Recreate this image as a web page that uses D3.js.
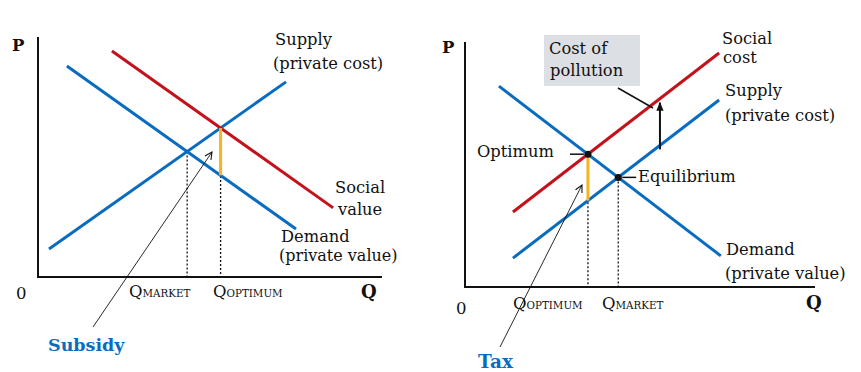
<!DOCTYPE html>
<html lang="en">
<head>
  <meta charset="UTF-8">
  <title>Externalities: subsidy and tax</title>
  <style>
    body { margin: 0; background: #fff; }
    svg { display: block; font-family: "DejaVu Serif", "Liberation Serif", serif; }
    .lbl { font-size: 16.3px; fill: #111; }
    .curve { fill: none; stroke-width: 3px; stroke-linecap: butt; }
    .axis { stroke: #111; stroke-width: 2px; }
    .dot-line { stroke: #111; stroke-width: 1.3px; stroke-dasharray: 2,2; }
  </style>
</head>
<body>
  <svg width="861" height="372"></svg>

  <script src="https://d3js.org/d3.v7.min.js"></script>
  <script>
    // left panel: positive externality (subsidy), values in arbitrary units 0..10
    const leftDemand = [[0.84, 8.79], [7.5, 2.0]];
    const leftSupply = [[0.32, 1.17], [7.21, 8.13]];
    const leftSocialValue = [[2.15, 9.42], [8.58, 2.88]];

    // right panel: negative externality (tax)
    const rightDemand = [[0.97, 8.20], [7.31, 1.27]];
    const rightSupply = [[1.37, 1.18], [7.26, 7.63]];
    const rightSocialCost = [[1.37, 3.06], [7.26, 9.55]];
    const pollutionArrowQ = 5.57;

    const blue = "#0a6cbf", red = "#c3121c", orange = "#f7b125";

    const svg = d3.select("svg");
    svg.append("defs").html(`
      <marker id="thin" viewBox="0 0 10 10" refX="9" refY="5" markerWidth="9" markerHeight="9" orient="auto" markerUnits="userSpaceOnUse">
        <path d="M1,1 L9,5 L1,9" fill="none" stroke="#111" stroke-width="1.2"/>
      </marker>
      <marker id="solid" viewBox="0 0 10 10" refX="9" refY="5" markerWidth="9" markerHeight="10" orient="auto" markerUnits="userSpaceOnUse">
        <path d="M0,1 L10,5 L0,9 Z" fill="#111"/>
      </marker>`);

    function lineAt(seg, x) {
      const [[x1, y1], [x2, y2]] = seg;
      return y1 + (y2 - y1) * (x - x1) / (x2 - x1);
    }
    function intersect(a, b) {
      const ma = (a[1][1] - a[0][1]) / (a[1][0] - a[0][0]);
      const mb = (b[1][1] - b[0][1]) / (b[1][0] - b[0][0]);
      const x = (b[0][1] - mb * b[0][0] - a[0][1] + ma * a[0][0]) / (ma - mb);
      return [x, lineAt(a, x)];
    }

    function text(g, x, y, s, opts = {}) {
      const t = g.append("text").attr("class", "lbl").attr("x", x).attr("y", y).text(s);
      if (opts.bold) t.style("font-weight", "bold");
      if (opts.size) t.style("font-size", opts.size + "px");
      if (opts.fill) t.style("fill", opts.fill);
      return t;
    }
    function qLabel(g, x, y, sub) {
      const t = g.append("text").attr("class", "lbl").attr("x", x).attr("y", y);
      t.append("tspan").style("font-size", "16.5px").text("Q");
      t.append("tspan").style("font-size", "10.3px").text(sub);
    }
    function axes(g, x, y) {
      g.append("line").attr("class", "axis")
        .attr("x1", x(0)).attr("x2", x(0)).attr("y1", y(10)).attr("y2", y(0) + 1);
      g.append("line").attr("class", "axis")
        .attr("x1", x(0) - 1).attr("x2", x(10)).attr("y1", y(0)).attr("y2", y(0));
    }

    // ---------- left panel ----------
    (function () {
      const g = svg.append("g");
      const x = d3.scaleLinear().domain([0, 10]).range([38, 382]);
      const y = d3.scaleLinear().domain([0, 10]).range([277, 37]);
      const line = d3.line().x(d => x(d[0])).y(d => y(d[1]));

      const mkt = intersect(leftDemand, leftSupply);
      const opt = intersect(leftSocialValue, leftSupply);

      g.append("line").attr("class", "dot-line")
        .attr("x1", x(mkt[0])).attr("x2", x(mkt[0])).attr("y1", y(mkt[1])).attr("y2", y(0));
      g.append("line").attr("class", "dot-line")
        .attr("x1", x(opt[0])).attr("x2", x(opt[0])).attr("y1", y(opt[1])).attr("y2", y(0));

      g.append("path").attr("class", "curve").attr("stroke", blue).attr("d", line(leftDemand));
      g.append("path").attr("class", "curve").attr("stroke", blue).attr("d", line(leftSupply));
      g.append("path").attr("class", "curve").attr("stroke", red).attr("d", line(leftSocialValue));

      // subsidy gap
      g.append("line").attr("stroke", orange).attr("stroke-width", 3)
        .attr("x1", x(opt[0])).attr("x2", x(opt[0]))
        .attr("y1", y(opt[1])).attr("y2", y(lineAt(leftDemand, opt[0])));

      axes(g, x, y);

      // subsidy pointer
      g.append("line").attr("stroke", "#111").attr("stroke-width", 0.9)
        .attr("x1", 93).attr("y1", 327).attr("x2", 212).attr("y2", 152)
        .attr("marker-end", "url(#thin)");

      text(g, 12, 51, "P", { bold: true, size: 16.5 });
      text(g, 275, 45, "Supply");
      text(g, 273, 69, "(private cost)");
      text(g, 335, 193, "Social");
      text(g, 338, 215, "value");
      text(g, 281, 242, "Demand");
      text(g, 279, 261, "(private value)", { size: 16 });
      text(g, 16, 299, "0", { size: 16.5 });
      qLabel(g, 129, 297, "MARKET");
      qLabel(g, 213, 297, "OPTIMUM");
      text(g, 361, 298, "Q", { bold: true, size: 18 });
      text(g, 48, 351, "Subsidy", { bold: true, size: 17.5, fill: blue });
    })();

    // ---------- right panel ----------
    (function () {
      const g = svg.append("g");
      const x = d3.scaleLinear().domain([0, 10]).range([465, 815]);
      const y = d3.scaleLinear().domain([0, 10]).range([287, 42]);
      const line = d3.line().x(d => x(d[0])).y(d => y(d[1]));

      const mkt = intersect(rightDemand, rightSupply);
      const opt = intersect(rightDemand, rightSocialCost);

      // cost of pollution box
      g.append("rect").attr("x", 544).attr("y", 35).attr("width", 96).attr("height", 51)
        .attr("fill", "#dcdfe3");
      text(g, 549, 54, "Cost of");
      text(g, 550, 76, "pollution");

      g.append("line").attr("class", "dot-line")
        .attr("x1", x(mkt[0])).attr("x2", x(mkt[0])).attr("y1", y(mkt[1])).attr("y2", y(0));
      g.append("line").attr("class", "dot-line")
        .attr("x1", x(opt[0])).attr("x2", x(opt[0])).attr("y1", y(opt[1])).attr("y2", y(0));

      g.append("path").attr("class", "curve").attr("stroke", blue).attr("d", line(rightDemand));
      g.append("path").attr("class", "curve").attr("stroke", blue).attr("d", line(rightSupply));
      g.append("path").attr("class", "curve").attr("stroke", red).attr("d", line(rightSocialCost));

      // tax gap
      g.append("line").attr("stroke", orange).attr("stroke-width", 3)
        .attr("x1", x(opt[0])).attr("x2", x(opt[0]))
        .attr("y1", y(opt[1])).attr("y2", y(lineAt(rightSupply, opt[0])));

      // pollution shift arrow
      g.append("line").attr("stroke", "#111").attr("stroke-width", 2)
        .attr("x1", x(pollutionArrowQ)).attr("x2", x(pollutionArrowQ))
        .attr("y1", y(lineAt(rightSupply, pollutionArrowQ)) + 4)
        .attr("y2", y(lineAt(rightSocialCost, pollutionArrowQ)) + 4)
        .attr("marker-end", "url(#solid)");
      g.append("line").attr("stroke", "#111").attr("stroke-width", 1.5)
        .attr("x1", 618).attr("y1", 88).attr("x2", 653).attr("y2", 108);

      axes(g, x, y);

      // points and their leader ticks
      g.selectAll("circle.pt").data([opt, mkt]).join("circle").attr("class", "pt")
        .attr("cx", d => x(d[0])).attr("cy", d => y(d[1])).attr("r", 3.5).attr("fill", "#111");
      g.append("line").attr("stroke", "#111").attr("stroke-width", 1.5)
        .attr("x1", x(opt[0]) - 18).attr("x2", x(opt[0]) - 4).attr("y1", y(opt[1])).attr("y2", y(opt[1]));
      g.append("line").attr("stroke", "#111").attr("stroke-width", 1.5)
        .attr("x1", x(mkt[0]) + 4).attr("x2", x(mkt[0]) + 18).attr("y1", y(mkt[1])).attr("y2", y(mkt[1]));

      // tax pointer
      g.append("line").attr("stroke", "#111").attr("stroke-width", 0.9)
        .attr("x1", 500).attr("y1", 347).attr("x2", 582).attr("y2", 185)
        .attr("marker-end", "url(#thin)");

      text(g, 442, 53, "P", { bold: true, size: 16.5 });
      text(g, 722, 44, "Social");
      text(g, 723, 63, "cost");
      text(g, 725, 96, "Supply");
      text(g, 725, 121, "(private cost)");
      text(g, 477, 157, "Optimum");
      text(g, 638, 182, "Equilibrium");
      text(g, 726, 255, "Demand");
      text(g, 725, 279, "(private value)");
      text(g, 456, 314, "0", { size: 16.5 });
      qLabel(g, 513, 309, "OPTIMUM");
      qLabel(g, 602, 309, "MARKET");
      text(g, 806, 309, "Q", { bold: true, size: 18 });
      text(g, 478, 368, "Tax", { bold: true, size: 18.5, fill: blue });
    })();
  </script>
</body>
</html>
